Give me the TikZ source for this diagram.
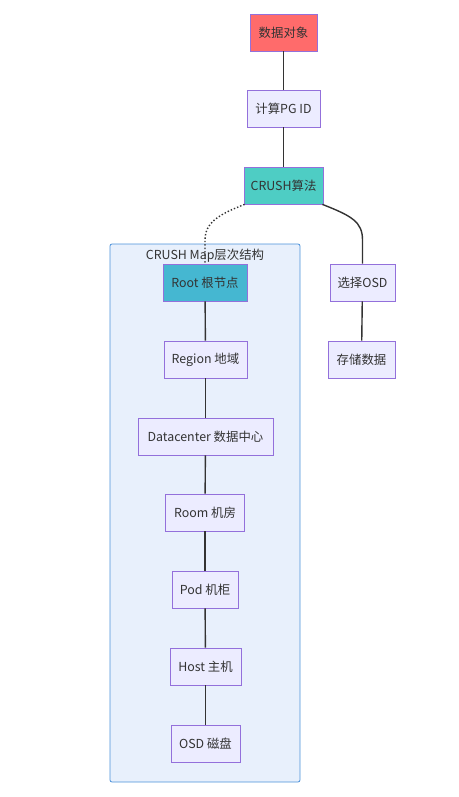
\documentclass[tikz,border=0pt]{standalone}
\usepackage{fontspec}
\setmainfont{Noto Sans CJK SC}
\definecolor{bord}{HTML}{9370DB}
\definecolor{boxfill}{HTML}{ECECFF}
\definecolor{txt}{HTML}{333333}
\definecolor{clbord}{HTML}{4A90D9}
\definecolor{clfill}{HTML}{E8F0FC}
\definecolor{red}{HTML}{FF6B6B}
\definecolor{teal}{HTML}{4ECDC4}
\definecolor{rootc}{HTML}{45B7D1}
\begin{document}
\begin{tikzpicture}[x=1pt,y=-1pt,
  font=\fontsize{12.4}{14}\selectfont,
  box/.style={draw=bord,fill=boxfill,line width=0.8pt,text=txt,minimum height=37pt,inner sep=0pt},
  edge/.style={draw=txt,line width=1.4pt}]
\useasboundingbox (0,0) rectangle (458,797);
\draw[draw=clbord,fill=clfill,line width=0.8pt,rounded corners=2pt] (110,244) rectangle (300,782);
\node[text=txt] (clab) at (205,256) {CRUSH Map层次结构};
\node[box,fill=red,minimum width=67pt] (obj) at (283.5,32.5) {数据对象};
\node[box,minimum width=73pt] (pg) at (283.5,108.5) {计算PG ID};
\node[box,fill=teal,minimum width=79pt] (crush) at (283.5,185.5) {CRUSH算法};
\node[box,fill=rootc,minimum width=84pt] (root) at (205,282.5) {Root 根节点};
\node[box,minimum width=83pt] (region) at (205.5,359.5) {Region 地域};
\node[box,minimum width=135pt] (dc) at (205.5,436.5) {Datacenter 数据中心};
\node[box,minimum width=79pt] (room) at (205,512.5) {Room 机房};
\node[box,minimum width=66pt] (pod) at (205,589.5) {Pod 机柜};
\node[box,minimum width=71pt] (host) at (205.5,666.5) {Host 主机};
\node[box,minimum width=69pt] (osd) at (205.5,743.5) {OSD 磁盘};
\node[box,minimum width=65pt] (sel) at (362.5,282.5) {选择OSD};
\node[box,minimum width=67pt] (store) at (361.5,359.5) {存储数据};
\coordinate (c1) at (362.5,240);
\coordinate (c2) at (205,240);
\draw[edge] (obj) -- (pg);
\draw[edge] (pg) -- (crush);
\draw[edge] ([xshift=-1pt]crush.south east) .. controls (352,216) and (362.5,222) .. (c1) -- (sel.north);
\draw[draw=txt,line width=1.4pt,dotted] ([xshift=1pt]crush.south west) .. controls (220,214) and (205,222) .. (c2) -- (root.north);
\draw[edge] (root) -- (region);
\draw[edge] (region) -- (dc);
\draw[edge] (dc) -- (room);
\draw[edge] (room) -- (pod);
\draw[edge] (pod) -- (host);
\draw[edge] (host) -- (osd);
\draw[edge] (sel) -- (store);
\end{tikzpicture}
\end{document}
